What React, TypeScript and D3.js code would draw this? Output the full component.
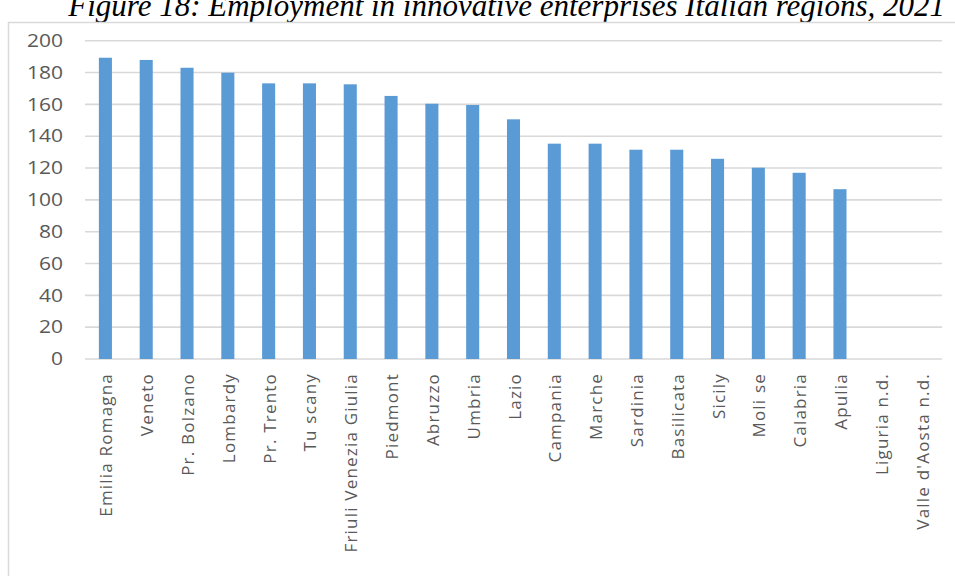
import React from "react";
import * as d3 from "d3";

// Employment in innovative enterprises by Italian region, 2021
const regions = [
  "Emilia Romagna", "Veneto", "Pr. Bolzano", "Lombardy", "Pr. Trento", "Tu scany",
  "Friuli Venezia Giulia", "Piedmont", "Abruzzo", "Umbria", "Lazio", "Campania",
  "Marche", "Sardinia", "Basilicata", "Sicily", "Moli se", "Calabria", "Apulia",
  "Liguria n.d.", "Valle d'Aosta n.d.",
];
const employment: (number | null)[] = [
  189.3, 187.9, 183, 179.9, 173.2, 173.2, 172.6, 165.3, 160.4, 159.6, 150.6, 135.3,
  135.3, 131.5, 131.5, 125.8, 120.2, 117, 106.7, null, null,
];
const yTicks = [0, 20, 40, 60, 80, 100, 120, 140, 160, 180, 200];
const title = "Figure 18: Employment in innovative enterprises Italian regions, 2021";

const W = 955;
const H = 576;
const plot = { left: 85, right: 942, top: 40.7, bottom: 359 };

export default function App() {
  const x = d3
    .scaleBand<string>()
    .domain(regions)
    .range([plot.left, plot.right])
    .paddingInner(0.68)
    .paddingOuter(0.34);
  const y = d3.scaleLinear().domain([0, 200]).range([plot.bottom, plot.top]);

  const grid = "#d9d9d9";
  const textCol = "#595959";

  return (
    <svg
      width={W}
      height={H}
      style={{ position: "absolute", left: 0, top: 0, background: "#fff" }}
    >
      <text
        x={945}
        y={16}
        textAnchor="end"
        fontFamily="'Liberation Serif', serif"
        fontStyle="italic"
        fontSize={31}
        fill="#000"
      >
        {title}
      </text>

      {/* chart frame */}
      <rect x={8.5} y={22.5} width={W + 10} height={H + 10} fill="none" stroke="#d9d9d9" strokeWidth={1.5} />

      {yTicks.map((t) => (
        <g key={t}>
          <line x1={plot.left} x2={plot.right} y1={y(t)} y2={y(t)} stroke={grid} strokeWidth={1.6} />
          <text
            transform={`translate(63,${y(t)}) scale(1.2,1)`}
            textAnchor="end"
            dy="0.36em"
            fontFamily="'Open Sans', sans-serif"
            fontSize={17.5}
            fill={textCol}
          >
            {t}
          </text>
        </g>
      ))}

      {regions.map((r, i) => {
        const v = employment[i];
        if (v == null) return null;
        return (
          <rect
            key={r}
            x={x(r)!}
            y={y(v)}
            width={x.bandwidth()}
            height={y(0) - y(v)}
            fill="#5B9BD5"
          />
        );
      })}

      {regions.map((r) => {
        const cx = x(r)! + x.bandwidth() / 2 + 7;
        return (
          <text
            key={r}
            transform={`translate(${cx},373) rotate(-90)`}
            textAnchor="end"
            fontFamily="'Open Sans', sans-serif"
            fontSize={17}
            letterSpacing={1.2}
            fill={textCol}
          >
            {r}
          </text>
        );
      })}
    </svg>
  );
}
